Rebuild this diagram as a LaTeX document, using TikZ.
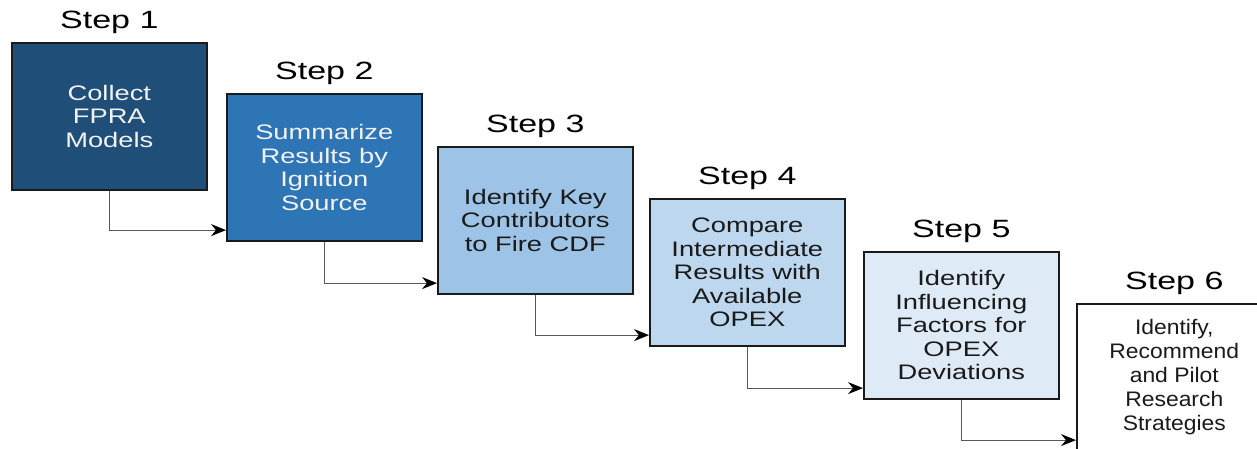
\documentclass[tikz,border=0pt]{standalone}
\usepackage{fontspec}
\setmainfont{Liberation Sans}
\newfontfamily\boxfont[FakeStretch=1.3]{Liberation Sans}
\newfontfamily\stepfont[FakeStretch=1.36]{Liberation Sans}
\newfontfamily\lastfont[FakeStretch=1.09]{Liberation Sans}
\usetikzlibrary{arrows.meta}
\definecolor{cA}{HTML}{1F4E79}
\definecolor{cB}{HTML}{2E75B6}
\definecolor{cC}{HTML}{9DC3E6}
\definecolor{cD}{HTML}{BDD7EE}
\definecolor{cE}{HTML}{DEEBF7}
\definecolor{txtw}{HTML}{F2F2F2}
\definecolor{txtk}{HTML}{1A1A1A}
\begin{document}
\begin{tikzpicture}[x=1pt,y=-1pt,
  stepbox/.style={draw=txtk, line width=1.6pt, minimum width=195pt, minimum height=147pt,
    inner sep=0pt, align=center, anchor=north west, text=txtk,
    font=\boxfont\fontsize{21pt}{23.5pt}\selectfont},
  steplabel/.style={anchor=base, inner sep=0pt, text=black,
    font=\stepfont\fontsize{25pt}{28pt}\selectfont},
  conn/.style={draw=black!65, line width=1pt, -{Stealth[length=15pt,width=12pt,inset=5pt,color=black,fill=black]}}]
\useasboundingbox (0,0) rectangle (1257,448);
\clip (0,0) rectangle (1257,448);
\fill[white] (0,0) rectangle (1257,448);

\node[stepbox, fill=cA, text=txtw] (b1) at (11,42) {Collect\\FPRA\\Models};
\node[stepbox, fill=cB, text=txtw] (b2) at (226,93) {Summarize\\Results by\\Ignition\\Source};
\node[stepbox, fill=cC] (b3) at (437,146) {Identify Key\\Contributors\\to Fire CDF};
\node[stepbox, fill=cD] (b4) at (649,198) {Compare\\Intermediate\\Results with\\Available\\OPEX};
\node[stepbox, fill=cE] (b5) at (863,251) {Identify\\Influencing\\Factors for\\OPEX\\Deviations};
\node[stepbox, fill=white, font=\lastfont\fontsize{21pt}{24pt}\selectfont] (b6) at (1076,303) {Identify,\\Recommend\\and Pilot\\Research\\Strategies};

\node[steplabel] (s1) at ([yshift=14pt]b1.north) {Step 1};
\node[steplabel] (s2) at ([yshift=14pt]b2.north) {Step 2};
\node[steplabel] (s3) at ([yshift=14pt]b3.north) {Step 3};
\node[steplabel] (s4) at ([yshift=14pt]b4.north) {Step 4};
\node[steplabel] (s5) at ([yshift=14pt]b5.north) {Step 5};
\node[steplabel] (s6) at ([yshift=14pt]b6.north) {Step 6};

\draw[conn] (b1.south) |- ([yshift=11.5pt]b2.south west);
\draw[conn] (b2.south) |- ([yshift=11.5pt]b3.south west);
\draw[conn] (b3.south) |- ([yshift=11.5pt]b4.south west);
\draw[conn] (b4.south) |- ([yshift=11.5pt]b5.south west);
\draw[conn] (b5.south) |- ([yshift=11.5pt]b6.south west);
\end{tikzpicture}
\end{document}
